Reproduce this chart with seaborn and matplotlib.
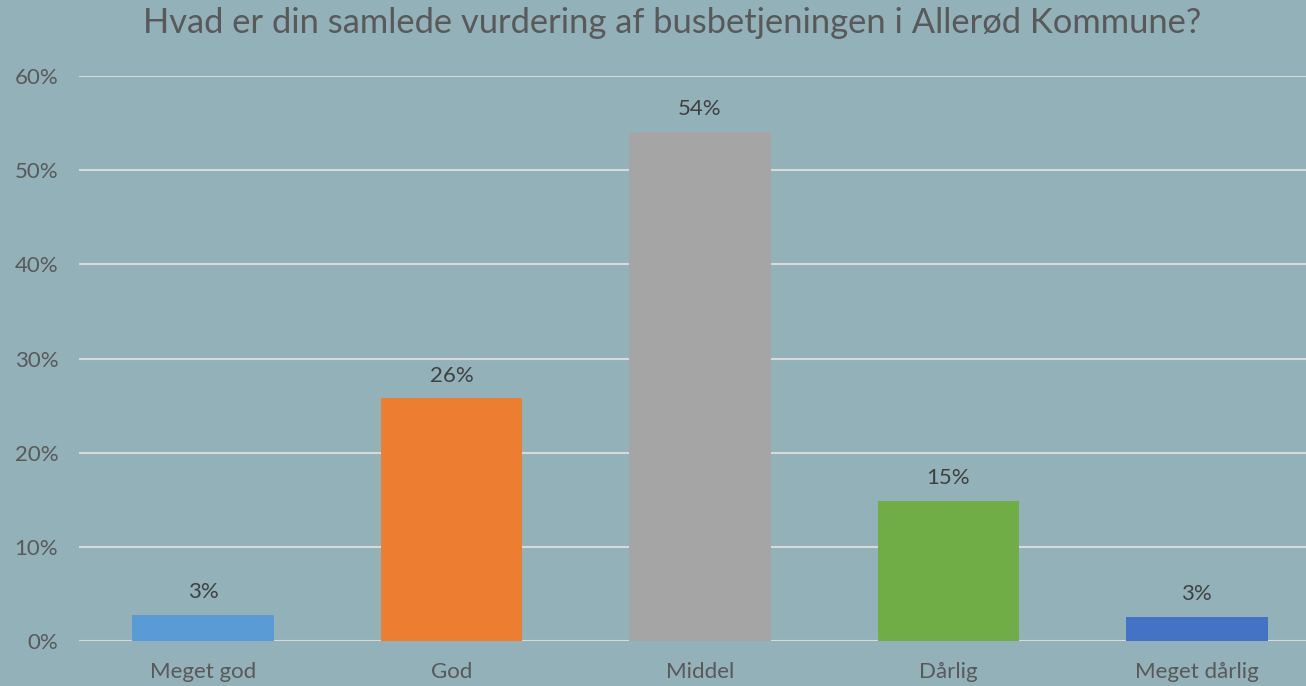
import matplotlib
matplotlib.use("Agg")
import matplotlib.pyplot as plt
import seaborn as sns
import pandas as pd
from matplotlib.ticker import PercentFormatter

categories = ["Meget god", "God", "Middel", "Dårlig", "Meget dårlig"]
values = [0.028, 0.258, 0.541, 0.149, 0.026]
labels = ["3%", "26%", "54%", "15%", "3%"]
colors = ["#5B9BD5", "#ED7D31", "#A5A5A5", "#70AD47", "#4472C4"]

bg = "#93B1B9"
text_color = "#595959"

sns.set_style("white")
plt.rcParams["font.family"] = ["Lato", "DejaVu Sans"]

df = pd.DataFrame({"kategori": categories, "andel": values})

fig = plt.figure(figsize=(13.06, 6.86), dpi=100, facecolor=bg)
ax = fig.add_axes([0.0605, 0.0656, 0.951, 0.8236])
ax.set_facecolor(bg)

sns.barplot(data=df, x="kategori", y="andel", hue="kategori", palette=colors,
            width=0.57, legend=False, ax=ax, saturation=1, linewidth=0)

ax.set_ylim(0, 0.6)
ax.set_xlim(-0.5, 4.5)
ax.set_yticks([0, 0.1, 0.2, 0.3, 0.4, 0.5, 0.6])
ax.yaxis.set_major_formatter(PercentFormatter(1.0, decimals=0))
ax.grid(axis="y", color="#D9D9D9", linewidth=1.5)
ax.set_axisbelow(True)
for s in ax.spines.values():
    s.set_visible(False)
ax.tick_params(axis="both", length=0, labelsize=16, colors=text_color)
ax.tick_params(axis="y", pad=15)
ax.tick_params(axis="x", pad=15)
ax.set_xlabel("")
ax.set_ylabel("")

for cont, lab in zip(ax.containers, labels):
    ax.bar_label(cont, labels=[lab], padding=9, fontsize=16, color="#404040")

fig.text(0.515, 0.966, "Hvad er din samlede vurdering af busbetjeningen i Allerød Kommune?",
         ha="center", va="center", fontsize=24.8, color=text_color)

fig.savefig("out.png", dpi=100, facecolor=bg)
